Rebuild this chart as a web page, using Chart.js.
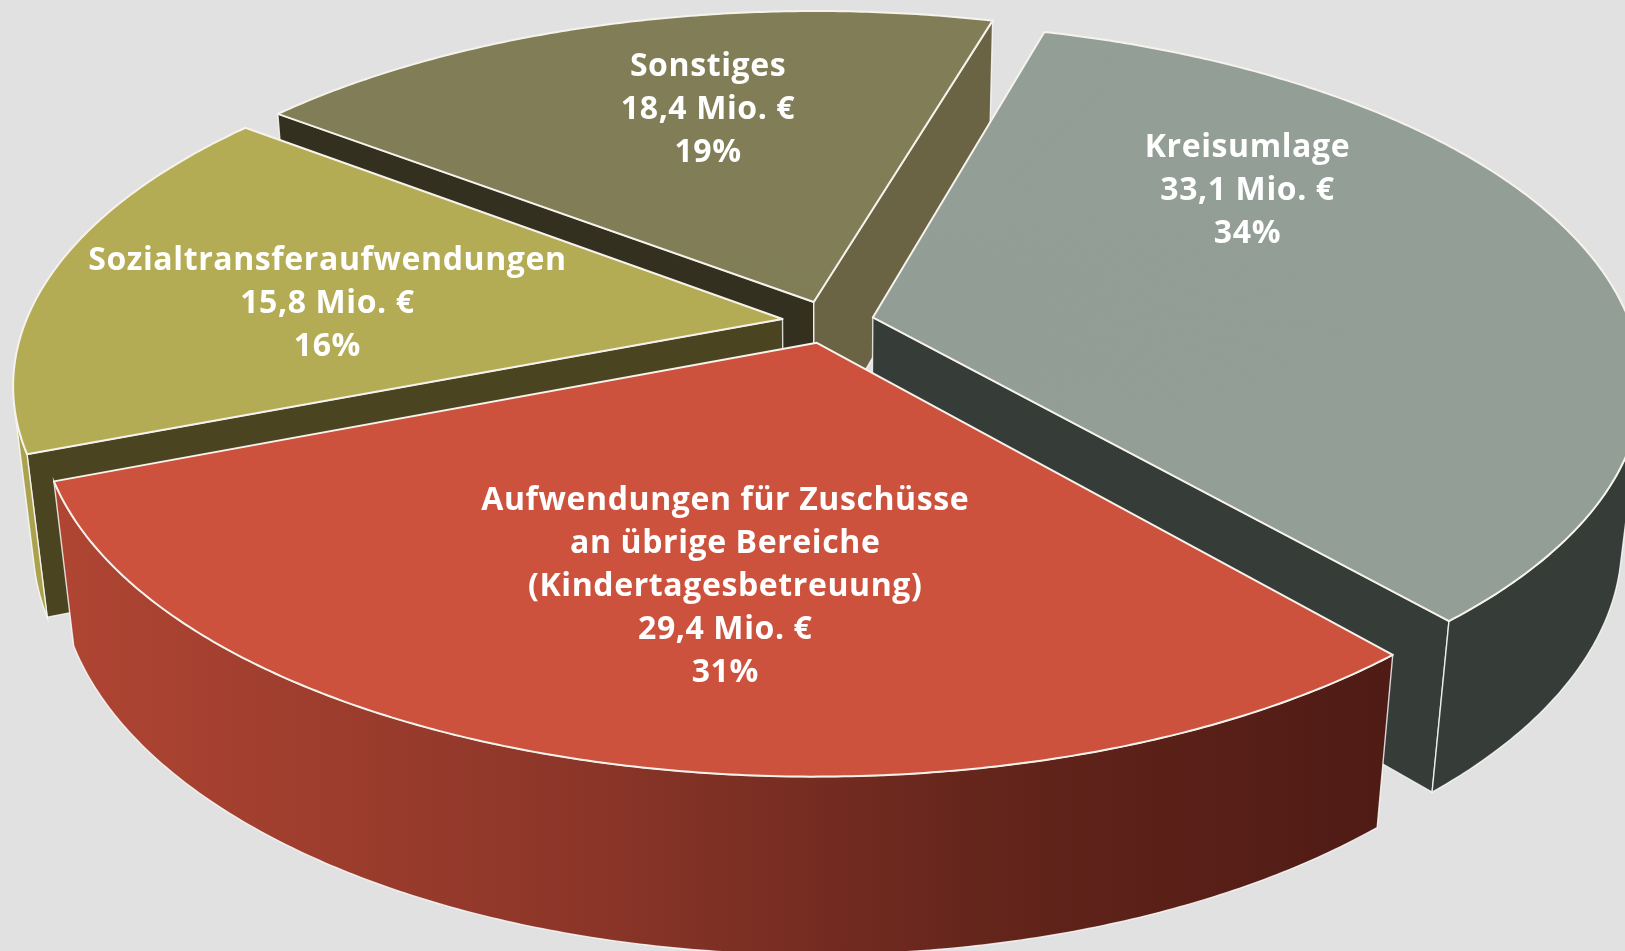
<!DOCTYPE html>
<html>
<head>
<meta charset="utf-8">
<script src="https://cdn.jsdelivr.net/npm/chart.js@4.4.1/dist/chart.umd.min.js"></script>
<style>
  html, body { margin: 0; padding: 0; background: #e1e1e1; overflow: hidden; }
  #wrap { width: 1625px; height: 951px; }
</style>
</head>
<body>
<div id="wrap"><canvas id="pie" width="1625" height="951"></canvas></div>
<script>
// data
const categories = [
  ['Kreisumlage'],
  ['Aufwendungen für Zuschüsse', 'an übrige Bereiche', '(Kindertagesbetreuung)'],
  ['Sozialtransferaufwendungen'],
  ['Sonstiges']
];
const amounts  = [33.1, 29.4, 15.8, 18.4];   // Mio. €
const percents = [34, 31, 16, 19];

// look
const topColors = ['#929e96', '#cd523e', '#b4ac55', '#817e57'];
const sideColors = [
  { start: '#363c37', end: '#363c37', outer: [[0, '#363c37'], [1, '#363c37']] },
  { start: '#5a1e17', end: '#5a1e17', outer: [[0, '#b04533'], [0.41, '#8a3528'], [0.71, '#62241b'], [1, '#4f1b15']] },
  { start: '#4a4520', end: '#4a4520', outer: [[0, '#aaa24e'], [1, '#aaa24e']] },
  { start: '#33301f', end: '#6a6444', outer: [[0, '#6a6444'], [1, '#6a6444']] }
];
const labelSpots = [[0.66, -23.6], [0.62, -4.2], [0.609, -3.9], [0.644, 4]]; // share of radius, angle shift (deg)

// perspective view of the pie
const V = { cx: 828, cy: 322, tilt: 0.461, dist: 4284, depth: 160, sink: 0.65, explode: 46 };

function proj(u, v, h) {
  const s = V.dist / (V.dist - v + V.sink * h);
  return [V.cx + u * s, V.cy + (V.tilt * v + h) * s];
}

function area(pts) {
  let s = 0;
  for (let i = 0; i < pts.length; i++) {
    const p = pts[i], q = pts[(i + 1) % pts.length];
    s += p[0] * q[1] - q[0] * p[1];
  }
  return s / 2;
}

function polyPath(ctx, pts) {
  ctx.beginPath();
  ctx.moveTo(pts[0][0], pts[0][1]);
  for (let i = 1; i < pts.length; i++) ctx.lineTo(pts[i][0], pts[i][1]);
  ctx.closePath();
}

function sliceInfo(a, i) {
  const mid = (a.startAngle + a.endAngle) / 2;
  return { a, i, mid, ex: V.explode * Math.cos(mid), ey: V.explode * Math.sin(mid) };
}

function rimPoint(sl, phi, h) {
  const r = sl.a.outerRadius;
  return proj(sl.ex + r * Math.cos(phi), sl.ey + r * Math.sin(phi), h);
}

function outline(sl) {
  const a = sl.a;
  const pts = [proj(sl.ex, sl.ey, 0)];
  const n = Math.ceil((a.endAngle - a.startAngle) / (Math.PI / 360));
  for (let j = 0; j <= n; j++) pts.push(rimPoint(sl, a.startAngle + (a.endAngle - a.startAngle) * j / n, 0));
  return pts;
}

function drawSides(ctx, sl) {
  const a = sl.a, col = sideColors[sl.i], H = V.depth;
  const apexT = proj(sl.ex, sl.ey, 0), apexB = proj(sl.ex, sl.ey, H);
  const faces = [
    { pts: [apexT, rimPoint(sl, a.startAngle, 0), rimPoint(sl, a.startAngle, H), apexB], fill: col.start },
    { pts: [apexT, apexB, rimPoint(sl, a.endAngle, H), rimPoint(sl, a.endAngle, 0)], fill: col.end }
  ];
  const n = Math.ceil((a.endAngle - a.startAngle) / (Math.PI / 360));
  const ang = j => a.startAngle + (a.endAngle - a.startAngle) * j / n;
  let j0 = -1, j1 = -1;
  for (let j = 0; j < n; j++) {
    const q = [rimPoint(sl, ang(j), 0), rimPoint(sl, ang(j + 1), 0), rimPoint(sl, ang(j + 1), H), rimPoint(sl, ang(j), H)];
    if (area(q) < 0) { if (j0 < 0) j0 = j; j1 = j; }
  }
  if (j0 >= 0) {
    const top = [], bot = [];
    for (let j = j0; j <= j1 + 1; j++) { top.push(rimPoint(sl, ang(j), 0)); bot.push(rimPoint(sl, ang(j), H)); }
    const pts = top.concat(bot.reverse());
    const xs = pts.map(p => p[0]);
    const x0 = Math.min(...xs), x1 = Math.max(...xs);
    const g = ctx.createLinearGradient(x0, 0, x1 + 1, 0);
    col.outer.forEach(([f, c]) => g.addColorStop(f, c));
    faces.push({ pts, fill: g });
  }
  faces.forEach(f => {
    if (area(f.pts) >= 0) return;
    polyPath(ctx, f.pts);
    ctx.fillStyle = f.fill;
    ctx.fill();
    ctx.strokeStyle = 'rgba(255,255,255,0.8)';
    ctx.lineWidth = 1.4;
    ctx.stroke();
  });
}

// top face: the arc element itself, drawn piecewise through the perspective
function drawTop(ctx, sl, dpr) {
  const a = sl.a, r = a.outerRadius;
  const saved = a.options;
  // under-layer so the seams of the pieces do not show
  polyPath(ctx, outline(sl));
  ctx.fillStyle = saved.backgroundColor;
  ctx.fill();
  a.options = Object.assign({}, saved, { borderWidth: 0, offset: 0 });
  const n = Math.max(2, Math.ceil((a.endAngle - a.startAngle) / (Math.PI / 90)));
  const pad = Math.PI / 300;
  const p = proj(sl.ex, sl.ey, 0);
  for (let j = 0; j < n; j++) {
    const p0 = a.startAngle + (a.endAngle - a.startAngle) * j / n;
    const p1 = a.startAngle + (a.endAngle - a.startAngle) * (j + 1) / n;
    const d1 = [r * Math.cos(p0), r * Math.sin(p0)], d2 = [r * Math.cos(p1), r * Math.sin(p1)];
    const q = rimPoint(sl, p0, 0), w = rimPoint(sl, p1, 0);
    const e1 = [q[0] - p[0], q[1] - p[1]], e2 = [w[0] - p[0], w[1] - p[1]];
    const det = d1[0] * d2[1] - d2[0] * d1[1];
    const m11 = (e1[0] * d2[1] - e2[0] * d1[1]) / det;
    const m12 = (e2[0] * d1[0] - e1[0] * d2[0]) / det;
    const m21 = (e1[1] * d2[1] - e2[1] * d1[1]) / det;
    const m22 = (e2[1] * d1[0] - e1[1] * d2[0]) / det;
    const tx = p[0] - (m11 * a.x + m12 * a.y), ty = p[1] - (m21 * a.x + m22 * a.y);
    ctx.save();
    ctx.setTransform(dpr * m11, dpr * m21, dpr * m12, dpr * m22, dpr * tx, dpr * ty);
    ctx.beginPath();
    ctx.moveTo(a.x, a.y);
    ctx.arc(a.x, a.y, r + 20, p0 - pad, p1 + pad);
    ctx.closePath();
    ctx.clip();
    a.draw(ctx);
    ctx.restore();
  }
  a.options = saved;
}

function drawTopBorder(ctx, sl) {
  polyPath(ctx, outline(sl));
  ctx.strokeStyle = sl.a.options.borderColor;
  ctx.lineWidth = sl.a.options.borderWidth;
  ctx.lineJoin = 'round';
  ctx.stroke();
}

const pie3d = {
  id: 'pie3d',
  beforeDatasetsDraw(chart) {
    const ctx = chart.ctx;
    const dpr = chart.currentDevicePixelRatio || 1;
    const slices = chart.getDatasetMeta(0).data.map(sliceInfo);
    ctx.save();
    ctx.setTransform(dpr, 0, 0, dpr, 0, 0);
    slices.slice().sort((s, t) => s.ey - t.ey).forEach(sl => drawSides(ctx, sl));
    slices.forEach(sl => drawTop(ctx, sl, dpr));
    slices.forEach(sl => drawTopBorder(ctx, sl));
    ctx.restore();
    return false;
  },
  afterDraw(chart) {
    const ctx = chart.ctx;
    const slices = chart.getDatasetMeta(0).data.map(sliceInfo);
    ctx.save();
    ctx.fillStyle = '#ffffff';
    ctx.font = 'bold 32px "Open Sans", sans-serif';
    ctx.letterSpacing = '0.6px';
    ctx.textAlign = 'center';
    ctx.textBaseline = 'middle';
    slices.forEach(sl => {
      const [f, shift] = labelSpots[sl.i];
      const phi = sl.mid + shift * Math.PI / 180;
      const rr = f * sl.a.outerRadius;
      const [x, y] = proj(sl.ex + rr * Math.cos(phi), sl.ey + rr * Math.sin(phi), 0);
      const lines = categories[sl.i].concat([
        amounts[sl.i].toFixed(1).replace('.', ',') + ' Mio. €',
        percents[sl.i] + '%'
      ]);
      const lh = 43;
      lines.forEach((t, k) => ctx.fillText(t, x, y + (k - (lines.length - 1) / 2) * lh));
    });
    ctx.restore();
  }
};

new Chart(document.getElementById('pie'), {
  type: 'pie',
  data: {
    labels: categories.map(c => c.join(' ')),
    datasets: [{
      data: amounts,
      backgroundColor: topColors,
      borderColor: '#f6f3ec',
      borderWidth: 2,
      clip: false
    }]
  },
  options: {
    responsive: false,
    animation: false,
    events: [],
    rotation: 16.0,
    radius: 757,
    plugins: { legend: { display: false }, tooltip: { enabled: false } }
  },
  plugins: [pie3d]
});
</script>
</body>
</html>
